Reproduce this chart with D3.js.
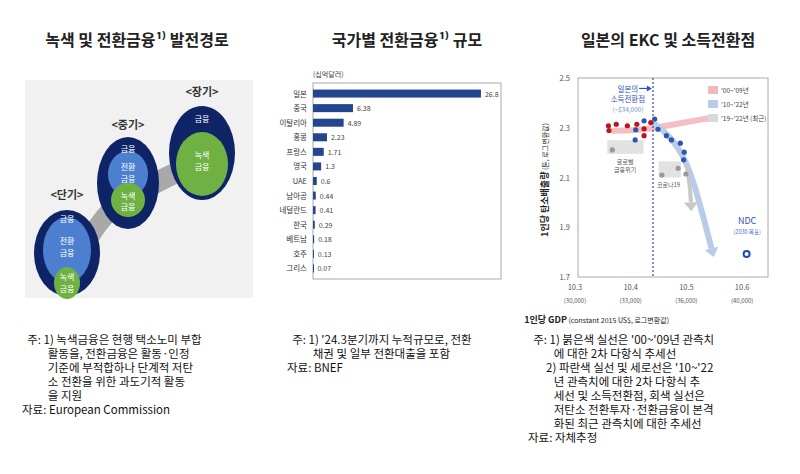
<!DOCTYPE html><html><head><meta charset="utf-8">
<script src="https://cdn.jsdelivr.net/npm/d3@7"></script>
<style>body{margin:0;background:#fff;font-family:"Noto Sans CJK KR","Noto Sans",sans-serif}text{white-space:pre}</style></head><body>
<svg id="c" width="800" height="474"></svg>
<script>
const countries=["일본","중국","이탈리아","홍콩","프랑스","영국","UAE","남아공","네덜란드","한국","베트남","호주","그리스"];
const sizes=[26.8,6.38,4.89,2.23,1.71,1.3,0.6,0.44,0.41,0.29,0.18,0.13,0.07];
const red=[[10.360,2.308],[10.361,2.289],[10.374,2.314],[10.394,2.308],[10.411,2.314],[10.424,2.296],[10.424,2.268],[10.436,2.321]];
const blue=[[10.408,2.251],[10.409,2.292],[10.424,2.328],[10.443,2.335],[10.449,2.294],[10.464,2.268],[10.473,2.251],[10.489,2.238],[10.496,2.202],[10.495,2.171]];
const gray=[[10.367,2.211],[10.456,2.110],[10.485,2.137],[10.499,2.114]];
const ndc=[10.608,1.792];
const redTrend=[[10.365,2.287],[10.42,2.29],[10.47,2.31],[10.53,2.335],[10.546,2.34]];
const blueTrend=[[10.44,2.32],[10.47,2.27],[10.5,2.17],[10.52,2.03],[10.545,1.815]];
const grayTrend=[[10.5,2.15],[10.506,2.075],[10.508,2.0]];
const xTicks=[10.3,10.4,10.5,10.6], xSub=["(30,000)","(33,000)","(36,000)","(40,000)"];
const yTicks=[1.7,1.9,2.1,2.3,2.5];

const svg=d3.select("#c");
const T=(x,y,t,o={})=>{const e=svg.append("text").attr("x",x).attr("y",y).text(t).attr("font-size",o.s||11).attr("fill",o.f||"#222").attr("text-anchor",o.a||"start");if(o.w)e.attr("font-weight",o.w);return e;};
T(137,46,"녹색 및 전환금융¹⁾ 발전경로",{s:16,w:"bold",a:"middle"});
T(407,46,"국가별 전환금융¹⁾ 규모",{s:16,w:"bold",a:"middle"});
T(668,46,"일본의 EKC 및 소득전환점",{s:16,w:"bold",a:"middle"});

svg.append("rect").attr("x",25).attr("y",80).attr("width",228).attr("height",218).attr("fill","#f1f1f1");
svg.append("path").attr("d","M80,235 C100,205 110,195 128,185 L202,148 L208,168 L135,205 C115,215 105,230 90,255 Z").attr("fill","#a9a9a9");
const ell=(cx,cy,rx,ry,f)=>svg.append("ellipse").attr("cx",cx).attr("cy",cy).attr("rx",rx).attr("ry",ry).attr("fill",f);
const navy="#0f2466",bl="#4d7fd0",gr="#6fb243";
ell(67,253,33,43,navy);ell(67,250,24,33,bl);ell(67,283,13,16,gr);
ell(128,183,31,46,navy);ell(128,174,20,23,bl);ell(128,200,17,17,gr);
ell(202,153,33,47,navy);ell(202,164,26,32,gr);
const W=(x,y,t)=>T(x,y,t,{s:8,f:"#fff",a:"middle"});
W(67,222,"금융");W(67,244,"전환");W(67,256,"금융");W(67,280,"녹색");W(67,292,"금융");
W(128,152,"금융");W(128,170,"전환");W(128,182,"금융");W(128,199,"녹색");W(128,210,"금융");
W(202,122,"금융");W(202,158,"녹색");W(202,170,"금융");
T(67,199,"<단기>",{s:11,w:"bold",a:"middle",f:"#333"});
T(128,129,"<중기>",{s:11,w:"bold",a:"middle",f:"#333"});
T(202,96,"<장기>",{s:11,w:"bold",a:"middle",f:"#333"});

const bx=d3.scaleLinear().domain([0,30]).range([313,501]);
const by=d3.scaleBand().domain(countries).range([83,279]).padding(0.45);
svg.append("rect").attr("x",313).attr("y",83).attr("width",188).attr("height",196).attr("fill","none").attr("stroke","#aaa");
T(313,77,"(십억달러)",{s:7,f:"#444"});
svg.selectAll(".b").data(countries).enter().append("rect").attr("x",bx(0)).attr("y",d=>by(d)).attr("height",by.bandwidth()).attr("width",(d,i)=>Math.max(1,bx(sizes[i])-bx(0))).attr("fill","#23468f");
countries.forEach((c,i)=>{T(307,by(c)+by.bandwidth()/2+3,c,{s:7.5,a:"end",f:"#333"});T(bx(sizes[i])+4,by(c)+by.bandwidth()/2+3,sizes[i],{s:7,f:"#444"});});

const x=d3.scaleLinear().domain([10.3,10.65]).range([575,770]);
const y=d3.scaleLinear().domain([1.7,2.5]).range([277,78]);
svg.append("rect").attr("x",578).attr("y",78).attr("width",190).attr("height",199).attr("fill","none").attr("stroke","#aaa");
yTicks.forEach(v=>T(570,y(v)+3,v.toFixed(1),{s:7.5,a:"end",f:"#555"}));
xTicks.forEach((v,i)=>{T(x(v),290,v,{s:7.5,a:"middle",f:"#555"});T(x(v),303,xSub[i],{s:6,a:"middle",f:"#555"});});
const ln=d3.line().x(d=>x(d[0])).y(d=>y(d[1])).curve(d3.curveBasis);
svg.append("path").attr("d",ln(redTrend)).attr("stroke","#f2b8bd").attr("stroke-width",6).attr("fill","none").attr("opacity",0.9);
svg.append("path").attr("d",ln(blueTrend)).attr("stroke","#b8cbe8").attr("stroke-width",6).attr("fill","none");
svg.append("path").attr("d",ln(grayTrend)).attr("stroke","#c8c8c8").attr("stroke-width",4).attr("fill","none");
const arrow=(p,q,c)=>{const X=x(q[0]),Y=y(q[1]),a=Math.atan2(Y-y(p[1]),X-x(p[0]));svg.append("path").attr("d",`M${X+9*Math.cos(a)},${Y+9*Math.sin(a)} L${X+7*Math.cos(a+1.57)},${Y+7*Math.sin(a+1.57)} L${X+7*Math.cos(a-1.57)},${Y+7*Math.sin(a-1.57)}Z`).attr("fill",c);};
arrow(blueTrend[3],blueTrend[4],"#b8cbe8");arrow(grayTrend[1],grayTrend[2],"#c8c8c8");
svg.append("rect").attr("x",x(10.358)).attr("y",y(2.25)).attr("width",x(10.423)-x(10.358)).attr("height",y(2.195)-y(2.25)).attr("fill","#e2e2e2");
svg.append("rect").attr("x",x(10.45)).attr("y",y(2.165)).attr("width",x(10.49)-x(10.45)).attr("height",y(2.10)-y(2.165)).attr("fill","#e2e2e2");
svg.append("line").attr("x1",x(10.44)).attr("x2",x(10.44)).attr("y1",78).attr("y2",277).attr("stroke","#2a4aa0").attr("stroke-dasharray","2,2").attr("stroke-width",1.2);
const dots=(d,c)=>d.forEach(p=>svg.append("circle").attr("cx",x(p[0])).attr("cy",y(p[1])).attr("r",2.6).attr("fill",c));
dots(gray,"#999");dots(red,"#c0131f");dots(blue,"#2d56b0");
svg.append("circle").attr("cx",x(ndc[0])).attr("cy",y(ndc[1])).attr("r",3).attr("fill","none").attr("stroke","#1f48b0").attr("stroke-width",2);
T(x(10.609),224,"NDC",{s:9,a:"middle",f:"#2d56b0"});T(x(10.609),234,"(2030 목표)",{s:5.5,a:"middle",f:"#5070c0"});
T(x(10.395),92,"일본의",{s:7.5,a:"middle",f:"#2d56b0"});T(x(10.395),102,"소득전환점",{s:7.5,a:"middle",f:"#2d56b0"});T(x(10.395),112,"(~$34,000)",{s:6.5,a:"middle",f:"#7090c8"});
svg.append("line").attr("x1",x(10.415)).attr("x2",x(10.435)).attr("y1",y(2.458)).attr("y2",y(2.458)).attr("stroke","#2d56b0").attr("stroke-width",1.2);
svg.append("path").attr("d",`M${x(10.438)},${y(2.458)} l-5,-3 l0,6z`).attr("fill","#2d56b0");
T(x(10.39),164,"글로벌",{s:6,a:"middle",f:"#555"});T(x(10.39),172,"금융위기",{s:6,a:"middle",f:"#555"});
T(x(10.468),187,"코로나19",{s:6,a:"middle",f:"#555"});
[["'00~'09년","#f2b8bd"],["'10~'22년","#b8cbe8"],["'19~'22년 (최근)","#d8d8d8"]].forEach((l,i)=>{svg.append("rect").attr("x",708).attr("y",86+i*14).attr("width",10).attr("height",8).attr("fill",l[1]);T(721,93+i*14,l[0],{s:6.5,f:"#444"});});
T(669,323,"1인당 GDP",{s:9,w:"bold",a:"end"}).append("tspan").text(" (constant 2015 US$, 로그변환값)").attr("font-size",7).attr("font-weight","normal");
svg.append("text").attr("transform","translate(548,180) rotate(-90)").attr("text-anchor","middle").attr("font-size",9).attr("font-weight","bold").attr("fill","#222").text("1인당 탄소배출량").append("tspan").text(" (톤, 로그변환값)").attr("font-size",7).attr("font-weight","normal");

const lines=(x0,y0,arr)=>arr.forEach((t,i)=>T(x0,y0+i*14,t,{s:11.5,f:"#111"}));
lines(22,344,["  주: 1) 녹색금융은 현행 택소노미 부합","          활동을, 전환금융은 활동·인정","          기준에 부적합하나 단계적 저탄","          소 전환을 위한 과도기적 활동","          을 지원","자료: European Commission"]);
lines(287,344,["  주: 1) '24.3분기까지 누적규모로, 전환","          채권 및 일부 전환대출을 포함","자료: BNEF"]);
lines(528,344,["  주: 1) 붉은색 실선은 '00~'09년 관측치","          에 대한 2차 다항식 추세선","       2) 파란색 실선 및 세로선은 '10~'22","          년 관측치에 대한 2차 다항식 추","          세선 및 소득전환점, 회색 실선은","          저탄소 전환투자·전환금융이 본격","          화된 최근 관측치에 대한 추세선","자료: 자체추정"]);
</script></body></html>
